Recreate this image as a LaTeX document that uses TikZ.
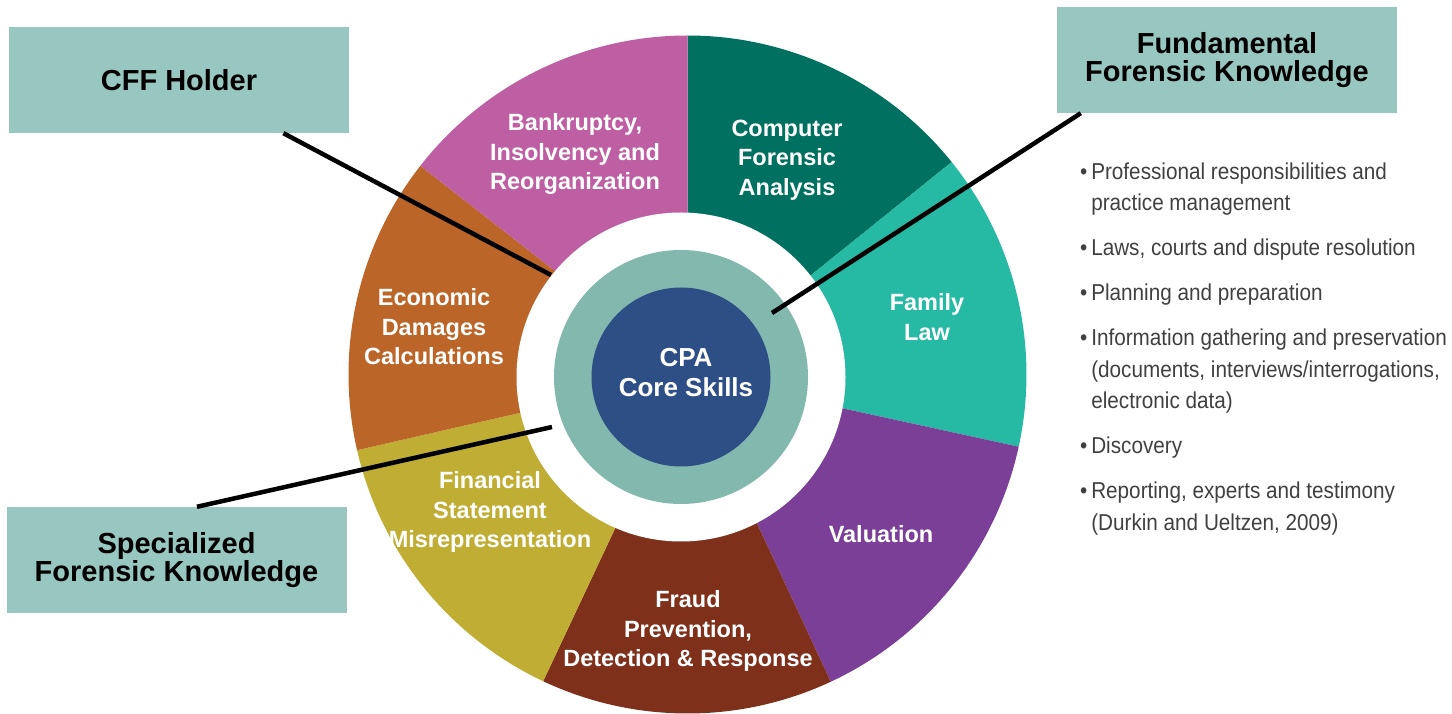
\documentclass[tikz,border=0pt]{standalone}
\usepackage{fontspec}
\setmainfont{Liberation Sans}
\newfontfamily\listfont[FakeStretch=0.9]{Liberation Sans}
\usetikzlibrary{positioning}

\definecolor{bankpink}{RGB}{191,95,163}
\definecolor{compgreen}{RGB}{0,112,96}
\definecolor{famteal}{RGB}{38,185,164}
\definecolor{valpurple}{RGB}{123,63,151}
\definecolor{fraudred}{RGB}{127,48,27}
\definecolor{finolive}{RGB}{191,174,51}
\definecolor{econorange}{RGB}{187,101,40}
\definecolor{ringteal}{RGB}{130,184,174}
\definecolor{coreblue}{RGB}{45,79,134}
\definecolor{boxteal}{RGB}{152,198,192}
\definecolor{listgray}{RGB}{64,64,64}

\tikzset{
  tagbox/.style={fill=boxteal, minimum width=340pt, minimum height=106pt, inner sep=0pt,
    align=center, font=\fontsize{29}{28}\selectfont\bfseries},
  sectlabel/.style={text=white, align=center, inner sep=0pt,
    font=\fontsize{23.5}{29.5}\selectfont\bfseries},
  leader/.style={line width=4.5pt, black},
  listtext/.style={text=listgray, align=left, inner sep=0pt,
    font=\listfont\fontsize{23}{31.5}\selectfont}
}

\begin{document}
\begin{tikzpicture}[x=1pt,y=1pt]
  \useasboundingbox (0,0) rectangle (1452,713);
  \coordinate (ctr) at (687.5,338.5);
  \coordinate (core) at (681,336);

  \fill[compgreen]  (ctr) -- ++(90:339)    arc[start angle=90,    end angle=38.8,   radius=339] -- cycle;
  \fill[famteal]    (ctr) -- ++(38.8:339)  arc[start angle=38.8,  end angle=-12.3,  radius=339] -- cycle;
  \fill[valpurple]  (ctr) -- ++(-12.3:339) arc[start angle=-12.3, end angle=-65,    radius=339] -- cycle;
  \fill[fraudred]   (ctr) -- ++(-65:339)   arc[start angle=-65,   end angle=-115.2, radius=339] -- cycle;
  \fill[finolive]   (ctr) -- ++(-115.2:339) arc[start angle=-115.2, end angle=-167.1, radius=339] -- cycle;
  \fill[econorange] (ctr) -- ++(192.9:339) arc[start angle=192.9, end angle=142,    radius=339] -- cycle;
  \fill[bankpink]   (ctr) -- ++(142:339)   arc[start angle=142,   end angle=90,     radius=339] -- cycle;

  \fill[white]     (core) circle[radius=164.5];
  \fill[ringteal]  (core) circle[radius=127];
  \fill[coreblue]  (core) circle[radius=89.5];

  \node[sectlabel] (bankr)  at (575,559) {Bankruptcy,\\Insolvency and\\Reorganization};
  \node[sectlabel] (comp)   at (787,553) {Computer\\Forensic\\Analysis};
  \node[sectlabel] (family) at (927,396) {Family\\Law};
  \node[sectlabel] (econ)   at (434,386) {Economic\\Damages\\Calculations};
  \node[sectlabel] (valu)   at (881,179) {Valuation};
  \node[sectlabel] (finst)  at (490,201) {Financial\\Statement\\Misrepresentation};
  \node[sectlabel] (fraud)  at (688,82)  {Fraud\\Prevention,\\Detection \& Response};
  \node[sectlabel, font=\fontsize{26}{30}\selectfont\bfseries] (cpa) at (686,340) {CPA\\Core Skills};

  \node[tagbox] (cff) at (179,633) {CFF Holder};
  \node[tagbox] (ffk) at (1227,653) {Fundamental\\Forensic Knowledge};
  \node[tagbox] (sfk) at (176.5,153) {Specialized\\Forensic Knowledge};

  \coordinate (cffend) at (551,438);
  \coordinate (ffkend) at (772,400);
  \coordinate (sfkend) at (552,286);
  \draw[leader] (cff.-27) -- (cffend);
  \draw[leader] (ffk.200) -- (ffkend);
  \draw[leader] (sfk.69) -- (sfkend);

  \node[listtext, anchor=north west] (fundlist) at (1080,550.5) {%
    \textbullet\,Professional responsibilities and\\
    \phantom{\textbullet\,}practice management\\[13.5pt]
    \textbullet\,Laws, courts and dispute resolution\\[13.5pt]
    \textbullet\,Planning and preparation\\[13.5pt]
    \textbullet\,Information gathering and preservation\\
    \phantom{\textbullet\,}(documents, interviews/interrogations,\\
    \phantom{\textbullet\,}electronic data)\\[13.5pt]
    \textbullet\,Discovery\\[13.5pt]
    \textbullet\,Reporting, experts and testimony\\
    \phantom{\textbullet\,}(Durkin and Ueltzen, 2009)};
\end{tikzpicture}
\end{document}
